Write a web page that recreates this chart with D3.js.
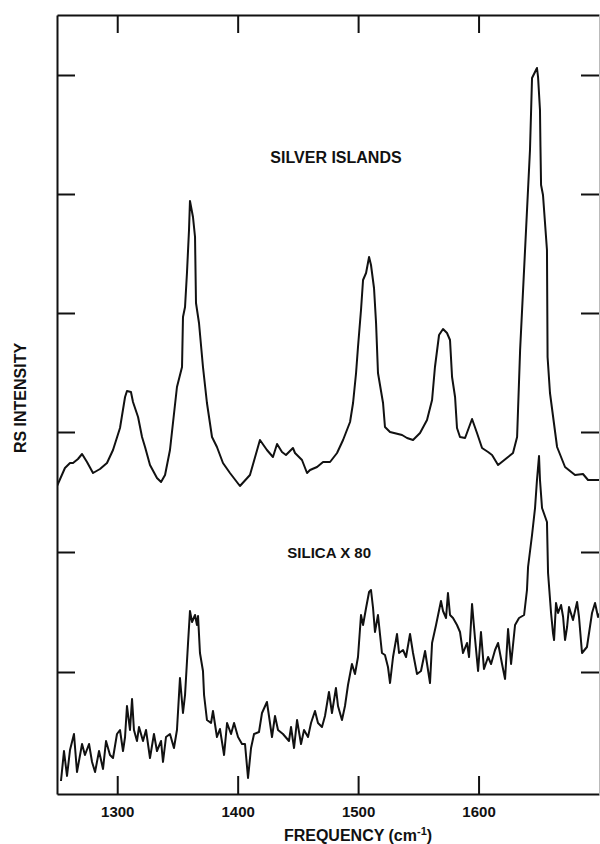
<!DOCTYPE html>
<html>
<head>
<meta charset="utf-8">
<script src="https://cdn.jsdelivr.net/npm/d3@7"></script>
<style>
  html, body { margin: 0; padding: 0; background: #fff; }
  svg { display: block; }
  text { font-family: "Liberation Sans", Arial, Helvetica, sans-serif; font-weight: bold; fill: #111; }
</style>
</head>
<body>
<svg id="chart" width="600" height="844"></svg>
<script>
// ---- data (frequency in cm^-1, intensity in arbitrary units) ----
const xTicks = [1300, 1400, 1500, 1600];
const yTicks = [120, 240, 360, 479, 598, 717];

const silverFreq = [1250, 1256.6, 1260.8, 1263.3, 1267.4, 1270.8, 1274.9, 1279.9, 1285.7, 1291.5, 1296.5,
  1302.3, 1306.5, 1308.1, 1311.4, 1313.1, 1317.3, 1320.6, 1323.1, 1327.2, 1333.0, 1336.4, 1339.7,
  1343.8, 1349.6, 1353.8, 1354.6, 1356.3, 1357.9, 1359.6, 1360.4, 1362.9, 1364.6, 1365.4, 1367.9,
  1371.2, 1374.5, 1378.7, 1382.8, 1387.8, 1393.6, 1401.9, 1410.2, 1418.5, 1424.3, 1429.3, 1432.7,
  1436.8, 1440.1, 1445.9, 1447.6, 1453.4, 1457.6, 1460.1, 1465.9, 1470.9, 1476.7, 1482.5, 1487.5,
  1493.3, 1495.8, 1498.3, 1499.9, 1502.4, 1504.1, 1506.6, 1509.1, 1510.7, 1513.2, 1514.9, 1516.5,
  1520.7, 1522.3, 1526.5, 1536.5, 1540.6, 1545.6, 1551.4, 1557.2, 1561.4, 1563.8, 1567.2, 1570.5,
  1573.8, 1576.3, 1578.0, 1580.5, 1582.1, 1584.6, 1588.8, 1594.6, 1598.7, 1602.9, 1607.9, 1611.2,
  1616.2, 1624.5, 1628.6, 1632.0, 1634.5, 1638.6, 1642.7, 1644.4, 1648.5, 1649.4, 1651.0, 1651.4,
  1651.9, 1653.5, 1656.8, 1657.3, 1659.3, 1665.2, 1671.8, 1680.1, 1686.7, 1690.9, 1700.8];
const silverInt = [306, 324, 329, 329, 333, 338, 330, 319, 323, 329, 342,
  364, 395, 401, 400, 390, 375, 355, 345, 327, 314, 310, 317,
  342, 405, 425, 475, 485, 519, 562, 591, 575, 555, 489, 469,
  425, 389, 355, 345, 329, 319, 306, 317, 352, 342, 335, 348,
  340, 337, 344, 339, 332, 319, 322, 325, 330, 330, 339, 352,
  370, 389, 419, 445, 482, 512, 519, 535, 527, 504, 469, 419,
  389, 365, 360, 357, 354, 352, 359, 372, 392, 425, 457, 463,
  459, 452, 415, 395, 364, 355, 354, 373, 359, 344, 340, 337,
  327, 335, 339, 355, 442, 542, 642, 714, 724, 715, 682, 645,
  607, 597, 542, 435, 399, 345, 325, 317, 318, 312, 312];

const silicaFreq = [1253.3, 1255.8, 1258.3, 1260.8, 1264.1, 1266.6, 1270.8, 1273.2, 1276.6, 1279.1, 1281.6,
  1284.9, 1288.2, 1290.7, 1294.0, 1296.5, 1299.8, 1302.3, 1304.8, 1306.5, 1308.1, 1310.6, 1312.3,
  1313.9, 1316.4, 1318.1, 1321.4, 1323.9, 1327.2, 1330.5, 1333.0, 1336.4, 1338.0, 1340.5, 1343.8,
  1347.1, 1349.6, 1352.1, 1354.6, 1356.3, 1358.8, 1360.4, 1362.1, 1364.6, 1366.2, 1367.1, 1368.7,
  1371.2, 1372.1, 1374.5, 1377.9, 1379.5, 1382.8, 1385.3, 1388.7, 1391.2, 1394.5, 1397.0, 1400.3,
  1403.6, 1406.1, 1408.6, 1411.1, 1413.6, 1417.7, 1420.2, 1424.3, 1426.0, 1428.5, 1431.0, 1433.5,
  1437.6, 1442.6, 1444.3, 1446.8, 1449.3, 1452.6, 1455.1, 1458.4, 1460.9, 1464.2, 1466.7, 1470.0,
  1472.5, 1475.8, 1478.3, 1481.6, 1483.3, 1486.6, 1489.1, 1491.6, 1494.9, 1497.4, 1499.9, 1502.4,
  1504.1, 1506.6, 1509.1, 1510.7, 1512.4, 1514.0, 1516.5, 1519.8, 1522.3, 1524.8, 1526.5, 1529.0,
  1532.3, 1534.0, 1537.3, 1539.8, 1543.1, 1545.6, 1548.9, 1552.2, 1555.6, 1559.7, 1561.4, 1564.7,
  1568.8, 1570.5, 1573.0, 1574.6, 1576.3, 1578.8, 1582.1, 1584.6, 1587.1, 1590.4, 1592.1, 1594.6,
  1597.1, 1599.6, 1602.0, 1604.5, 1607.9, 1610.4, 1613.7, 1616.2, 1619.5, 1622.0, 1624.5, 1627.0,
  1630.3, 1633.6, 1637.8, 1640.2, 1641.1, 1644.4, 1646.9, 1648.5, 1650.2, 1651.0, 1652.7, 1656.8,
  1657.7, 1660.2, 1661.8, 1662.7, 1664.3, 1666.0, 1668.5, 1670.2, 1671.8, 1673.5, 1675.1, 1678.4,
  1681.8, 1683.4, 1685.9, 1690.0, 1694.2, 1696.7, 1699.2, 1700.8];
const silicaInt = [11, 41, 16, 42, 58, 20, 48, 37, 48, 30, 20,
  41, 23, 51, 37, 34, 58, 62, 41, 55, 86, 62, 93,
  62, 51, 65, 51, 62, 34, 58, 41, 51, 30, 55, 58,
  44, 62, 114, 79, 97, 149, 181, 170, 177, 167, 176, 139,
  121, 97, 72, 69, 81, 55, 63, 37, 69, 58, 69, 55,
  48, 48, 14, 44, 58, 60, 79, 90, 76, 55, 76, 62,
  58, 51, 65, 44, 72, 48, 62, 55, 69, 81, 69, 65,
  76, 100, 79, 104, 86, 72, 86, 107, 128, 118, 135, 177,
  167, 184, 200, 202, 184, 160, 177, 139, 137, 125, 109, 135,
  158, 139, 142, 135, 158, 139, 118, 121, 141, 109, 149, 167,
  191, 181, 174, 199, 177, 174, 167, 160, 139, 149, 135, 188,
  153, 121, 160, 123, 135, 128, 142, 149, 128, 113, 163, 128,
  167, 174, 177, 202, 225, 257, 284, 312, 336, 312, 284, 270,
  219, 179, 159, 152, 189, 179, 187, 175, 152, 165, 185, 172,
  190, 175, 139, 145, 179, 189, 175, 179];

const labels = ["SILVER ISLANDS", "SILICA X 80"];
const xTitle = "FREQUENCY (cm";
const yTitle = "RS INTENSITY";

(function () {
  const svg = d3.select("#chart");
  const mLeft = 57, mRight = 599, mTop = 15, mBottom = 794;

  const x = d3.scaleLinear().domain([1250, 1700]).range([mLeft, mRight]);
  const y = d3.scaleLinear().domain([-2, 777]).range([mBottom, mTop]);

  svg.append("defs").append("clipPath").attr("id", "plotclip")
    .append("rect").attr("x", mLeft).attr("y", mTop).attr("width", mRight - mLeft).attr("height", mBottom - mTop);

  const line = d3.line().x(d => x(d[0])).y(d => y(d[1]));

  const silver = silverFreq.map((f, i) => [f, silverInt[i]]);
  const silica = silicaFreq.map((f, i) => [f, silicaInt[i]]);

  const g = svg.append("g").attr("clip-path", "url(#plotclip)");
  [silver, silica].forEach(s => {
    g.append("path").datum(s).attr("d", line)
      .attr("fill", "none").attr("stroke", "#111").attr("stroke-width", 2)
      .attr("stroke-linejoin", "round");
  });

  function style(sel) {
    sel.selectAll("path.domain").attr("stroke", "#111").attr("stroke-width", 2);
    sel.selectAll(".tick line").attr("stroke", "#111").attr("stroke-width", 2);
  }
  svg.append("g").attr("transform", `translate(0,${mBottom})`)
    .call(d3.axisBottom(x).tickValues(xTicks).tickSizeInner(-18).tickSizeOuter(0).tickPadding(12).tickFormat(d3.format("d")))
    .call(style)
    .call(s => s.selectAll("text").attr("font-size", 15).attr("font-weight", "bold")
      .attr("font-family", "'Liberation Sans', Arial, sans-serif").attr("fill", "#111"));
  svg.append("g").attr("transform", `translate(0,${mTop})`)
    .call(d3.axisTop(x).tickValues(xTicks).tickSizeInner(-18).tickSizeOuter(0).tickFormat(""))
    .call(style);
  svg.append("g").attr("transform", `translate(${mLeft},0)`)
    .call(d3.axisLeft(y).tickValues(yTicks).tickSizeInner(-18).tickSizeOuter(0).tickFormat(""))
    .call(style);
  svg.append("g").attr("transform", `translate(${mRight},0)`)
    .call(d3.axisRight(y).tickValues(yTicks).tickSizeInner(-18).tickSizeOuter(0).tickFormat(""))
    .call(style)
    .call(s => s.select("path.domain").attr("stroke", "#bbb").attr("stroke-width", 1));

  svg.append("text").attr("x", 336).attr("y", 163).attr("text-anchor", "middle")
    .attr("font-size", 16).text(labels[0]);
  svg.append("text").attr("x", 371).attr("y", 558).attr("text-anchor", "end")
    .attr("font-size", 15).text(labels[1]);

  const xt = svg.append("text").attr("x", 358).attr("y", 841).attr("text-anchor", "middle").attr("font-size", 16);
  xt.append("tspan").text(xTitle);
  xt.append("tspan").attr("font-size", 11).attr("dy", -6).text("-1");
  xt.append("tspan").attr("dy", 6).text(")");

  svg.append("text").attr("transform", "translate(26,398) rotate(-90)").attr("text-anchor", "middle")
    .attr("font-size", 16).text(yTitle);
})();
</script>
</body>
</html>
